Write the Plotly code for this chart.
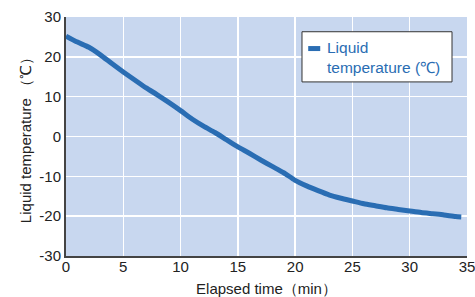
import plotly.graph_objects as go

time_min = [0, 1, 2, 3, 4, 5, 6, 7, 8, 9, 10, 11, 12, 13, 14, 15, 16, 17, 18, 19,
            20, 21, 22, 23, 24, 25, 26, 27, 28, 29, 30, 31, 32, 33, 34, 34.5]
liquid_temp = [25.2, 23.7, 22.4, 20.5, 18.3, 16.2, 14.2, 12.2, 10.4, 8.5, 6.5, 4.4,
               2.6, 1.0, -0.8, -2.6, -4.2, -5.9, -7.5, -9.1, -11.0, -12.4, -13.6,
               -14.7, -15.5, -16.2, -16.9, -17.4, -17.9, -18.3, -18.7, -19.1, -19.4,
               -19.7, -20.1, -20.2]
x_ticks = [0, 5, 10, 15, 20, 25, 30, 35]
y_ticks = [-30, -20, -10, 0, 10, 20, 30]
series_name = "Liquid<br>temperature (℃)"

LINE = "#2a6db3"
TEXT = "#222222"
FONT = "Liberation Sans, Arial, sans-serif"

fig = go.Figure()
fig.add_trace(go.Scatter(
    x=time_min, y=liquid_temp, mode="lines",
    line=dict(color=LINE, width=5, shape="spline", smoothing=0.6),
    name=series_name, showlegend=False,
))

# legend box (drawn manually to match the compact reference legend)
fig.add_shape(type="rect", xref="paper", yref="paper",
              x0=0.5885, x1=0.9626, y0=0.7284, y1=0.9383,
              fillcolor="white", line=dict(color="#333333", width=1), layer="above")
fig.add_shape(type="line", xref="paper", yref="paper",
              x0=0.604, x1=0.634, y0=0.868, y1=0.868,
              line=dict(color=LINE, width=5), layer="above")
fig.add_annotation(xref="paper", yref="paper", x=0.647, y=0.832,
                   xanchor="left", yanchor="middle", align="left",
                   text=series_name, showarrow=False,
                   font=dict(family=FONT, size=15.5, color=LINE))

fig.update_layout(
    width=475, height=297,
    margin=dict(l=66, r=8, t=13, b=41),
    paper_bgcolor="white",
    plot_bgcolor="#c8d7ef",
    font=dict(family=FONT, size=15, color=TEXT),
    showlegend=False,
    xaxis=dict(
        range=[0, 35], tickvals=x_ticks, ticktext=[str(v) for v in x_ticks],
        showgrid=True, gridcolor="white", gridwidth=1.5,
        showline=True, linecolor="#444444", linewidth=2,
        ticks="", zeroline=False, fixedrange=True, automargin=False,
        ticklabeloverflow="allow", ticklabelstandoff=-4,
        tickfont=dict(size=15, color=TEXT),
        title=dict(text="Elapsed time（min）", font=dict(size=15, color=TEXT)),
    ),
    yaxis=dict(
        range=[-30, 30], tickvals=y_ticks, ticktext=[str(v) for v in y_ticks],
        showgrid=True, gridcolor="white", gridwidth=1.5,
        showline=True, linecolor="#444444", linewidth=2,
        ticks="", zeroline=False, fixedrange=True, automargin=True,
        tickfont=dict(size=15, color=TEXT),
        title=dict(text="Liquid temperature （℃）", font=dict(size=15, color=TEXT), standoff=4),
    ),
)

fig.write_html("out.html", config={"displayModeBar": False, "staticPlot": True},
               post_script="document.body.style.margin='0px';")
